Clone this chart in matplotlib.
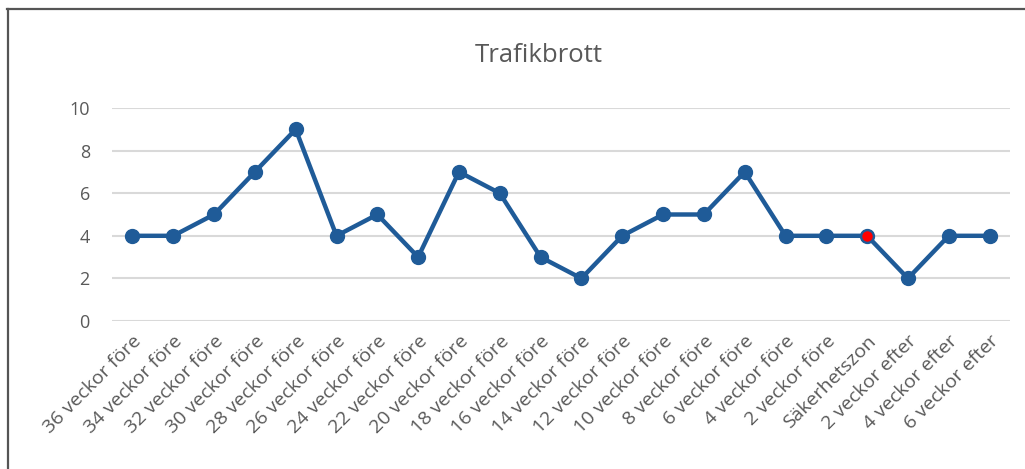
import numpy as np
import matplotlib.pyplot as plt
from matplotlib.lines import Line2D

categories = ['36 veckor före', '34 veckor före', '32 veckor före', '30 veckor före',
              '28 veckor före', '26 veckor före', '24 veckor före', '22 veckor före',
              '20 veckor före', '18 veckor före', '16 veckor före', '14 veckor före',
              '12 veckor före', '10 veckor före', '8 veckor före', '6 veckor före',
              '4 veckor före', '2 veckor före', 'Säkerhetszon', '2 veckor efter',
              '4 veckor efter', '6 veckor efter']
values = [4, 4, 5, 7, 9, 4, 5, 3, 7, 6, 3, 2, 4, 5, 5, 7, 4, 4, 4, 2, 4, 4]
highlight = 'Säkerhetszon'
yticks = [0, 2, 4, 6, 8, 10]

plt.rcParams['font.family'] = ['Open Sans', 'DejaVu Sans']
blue = '#1F5B98'
grey = '#595959'

fig = plt.figure(figsize=(10.25, 4.69), dpi=100)
ax = fig.add_axes([112/1025, 1-321/469, (1010-112)/1025, (321-108)/469])

x = np.arange(len(categories))
ax.plot(x, values, color=blue, linewidth=3.2, marker='o', markersize=10,
        solid_capstyle='round', zorder=3)
hi = categories.index(highlight)
ax.plot(x[hi], values[hi], marker='o', markersize=8.5, color='red',
        markeredgecolor=blue, markeredgewidth=1, zorder=4)

ax.set_xlim(-0.5, len(categories) - 0.5)
ax.set_ylim(0, 10)
ax.set_yticks(yticks)
ax.set_yticklabels([str(t) for t in yticks], fontsize=13, color=grey)
ax.set_xticks(x)
ax.set_xticklabels(categories, rotation=45, ha='right', rotation_mode='anchor',
                   fontsize=14, color=grey)
ax.tick_params(axis='both', length=0)
ax.tick_params(axis='y', pad=16)
ax.tick_params(axis='x', pad=8)
ax.grid(axis='y', color='#D9D9D9', linewidth=1.5)
ax.set_axisbelow(True)
for s in ax.spines.values():
    s.set_visible(False)

fig.text(539/1025, 1-55/469, 'Trafikbrott', ha='center', va='center',
         fontsize=18.5, color=grey)

# outer frame (top and left only)
fig.add_artist(Line2D([7/1025, 1], [1-9.5/469, 1-9.5/469], color='#555555', linewidth=1.6))
fig.add_artist(Line2D([7.5/1025, 7.5/1025], [0, 1-9.5/469], color='#555555', linewidth=1.6))

fig.savefig('out.png', dpi=100)
